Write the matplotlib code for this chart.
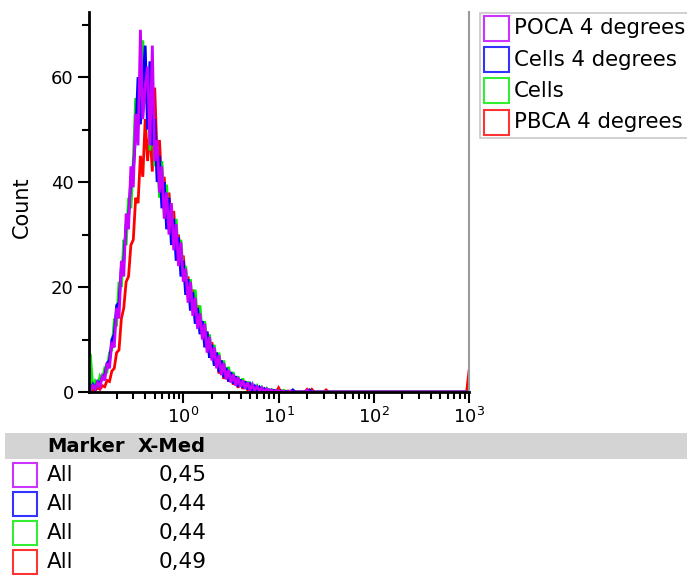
import numpy as np
import matplotlib
matplotlib.use("Agg")
import matplotlib.pyplot as plt
from matplotlib.patches import Rectangle
from matplotlib.ticker import FixedLocator, LogLocator, NullFormatter, LogFormatterSciNotation

plt.rcParams['font.family'] = ['DejaVu Sans']
plt.rcParams['mathtext.fontset'] = 'dejavusans'

# ---- data (histogram counts on a log10 grid, step 0.025 decade from ~10^-1) ----
series_names = ["POCA 4 degrees", "Cells 4 degrees", "Cells", "PBCA 4 degrees"]
series_colors = ["#cc00ff", "#0000ff", "#00ee00", "#ff0000"]
box_colors = ["#cc33ff", "#3333ff", "#33ee33", "#ff3333"]
medians = ["0,45", "0,44", "0,44", "0,49"]

poca = [0.3, 1.2, 0.6, 1.8, 1.0, 3.0, 2.2, 5.5, 4.5, 9.5, 8.5,
        16.0, 14.0, 25.0, 22.0, 34.0, 31.0, 43.0, 39.0, 53.0, 47.0,
        69.0, 52.0, 58.0, 62.0, 47.0, 66.0, 44.0, 48.0, 38.0, 43.0,
        33.0, 38.0, 30.0, 36.0, 27.0, 32.0, 24.0, 28.5, 21.0, 23.5,
        17.0, 21.0, 14.5, 18.0, 12.0, 15.0, 10.0, 13.0, 7.5, 10.5,
        6.0, 8.5, 4.5, 7.0, 3.2, 5.5, 2.4, 4.2, 1.8, 3.4,
        1.2, 2.8, 1.0, 2.2, 0.6, 1.8, 0.4, 1.4, 0.3, 1.0,
        0.2, 0.8, 0.0, 0.6, 0.2, 0.4, 0.0, 0.3, 0.2, 0.0,
        0.2, 0.0, 0.0, 0.2, 0.0, 0.0, 0.0, 0.0, 0.0, 0.0]
cells4 = [0.5, 1.4, 0.6, 2.0, 1.6, 2.8, 3.2, 5.5, 6.0, 10.0, 11.0,
          16.5, 17.0, 24.0, 25.0, 32.0, 33.0, 41.0, 42.0, 49.0, 60.0,
          51.0, 58.0, 66.0, 50.0, 63.0, 47.0, 52.0, 40.0, 45.0, 35.0,
          40.0, 31.0, 37.0, 28.0, 33.0, 25.0, 29.5, 22.0, 25.0, 18.5,
          21.5, 15.5, 19.0, 13.0, 16.0, 11.0, 13.5, 8.5, 11.5, 6.5,
          9.0, 5.0, 7.5, 3.8, 6.0, 2.8, 4.6, 2.0, 3.8, 1.6,
          3.0, 1.0, 2.4, 0.8, 2.0, 0.5, 1.5, 0.4, 1.1, 0.2,
          0.9, 0.1, 0.6, 0.0, 0.4, 0.0, 0.3, 0.2, 0.0, 0.2,
          0.0, 0.1, 0.0, 0.0, 0.2, 0.0, 0.0, 0.0, 0.0, 0.0]
cells = [7.0, 0.6, 2.0, 1.0, 3.0, 2.2, 4.5, 4.0, 7.5, 8.0, 13.5,
         13.0, 21.0, 20.0, 29.0, 28.0, 37.0, 35.0, 44.0, 56.0, 50.0,
         60.0, 67.0, 55.0, 58.0, 46.0, 54.0, 43.0, 47.0, 37.0, 44.0,
         34.0, 39.5, 31.0, 35.5, 28.0, 33.0, 25.0, 29.0, 22.5, 24.0,
         19.0, 21.5, 16.0, 19.5, 13.5, 16.5, 11.0, 13.5, 9.0, 11.0,
         7.0, 9.0, 5.5, 7.5, 4.0, 6.0, 3.0, 4.8, 2.2, 3.8,
         1.8, 3.0, 1.2, 2.6, 0.8, 2.0, 0.6, 1.5, 0.4, 1.2,
         0.3, 0.9, 0.2, 0.7, 0.1, 0.5, 0.3, 0.0, 0.2, 0.1,
         0.0, 0.2, 0.0, 0.0, 0.0, 0.1, 0.0, 0.0, 0.0, 0.0]
pbca4 = [0.0, 0.4, 0.3, 0.8, 0.5, 1.2, 1.0, 2.2, 2.0, 4.0, 4.5,
         7.5, 8.0, 14.0, 16.0, 21.0, 22.0, 28.0, 29.0, 37.0, 36.0,
         45.0, 41.0, 52.0, 44.0, 50.0, 42.0, 58.0, 45.0, 48.0, 39.0,
         41.0, 34.0, 38.0, 30.0, 34.5, 27.0, 30.0, 24.0, 26.0, 21.0,
         22.0, 17.5, 19.5, 14.5, 16.5, 12.0, 13.5, 9.5, 11.5, 7.0,
         9.5, 5.5, 7.5, 3.5, 6.0, 2.5, 4.6, 2.0, 3.4, 1.4,
         2.8, 0.8, 2.2, 0.6, 1.6, 0.4, 1.1, 0.2, 0.8, 0.1,
         0.5, 0.3, 0.0, 0.4, 0.2, 0.0, 0.2, 0.0, 0.3, 0.0,
         0.0, 0.0, 0.2, 0.0, 0.0, 0.0, 0.0, 0.0, 0.0, 0.0]
# sparse counts further out (log10 position -> count)
tail_poca = {1.31: 0.3}
tail_cells4 = {1.16: 0.4, 1.33: 0.4}
tail_cells = {1.06: 0.3}
tail_pbca4 = {0.99: 0.8, 1.31: 0.5, 1.36: 0.5, 1.51: 0.4, 3.00: 4.0}

log_start, log_step = -0.975, 0.025
n_bins = 160
log_centers = log_start + log_step * np.arange(n_bins)
x_centers = 10 ** log_centers

def full_series(core, tail):
    y = np.zeros(n_bins)
    y[:len(core)] = core
    for lg, v in tail.items():
        idx = min(int(round((lg - log_start) / log_step)), n_bins - 1)
        y[idx] = v
    return y

all_series = [full_series(poca, tail_poca), full_series(cells4, tail_cells4),
              full_series(cells, tail_cells), full_series(pbca4, tail_pbca4)]

# ---- figure ----
W, H = 687, 575
fig = plt.figure(figsize=(W / 100, H / 100), dpi=100)

def fx(px):
    return px / W

def fy(py):
    return 1 - py / H

ax = fig.add_axes([fx(89), fy(392), fx(469) - fx(89), fy(12) - fy(392)])
# draw red first, magenta on top
for ys, col in list(zip(all_series, series_colors))[::-1]:
    ax.plot(x_centers, ys, color=col, lw=2.0, solid_joinstyle='miter', clip_on=True)

ax.set_xscale('log')
ax.set_xlim(10 ** -0.99, 1000)
ax.set_ylim(0, 72.4)
ax.xaxis.set_major_locator(FixedLocator([1, 10, 100, 1000]))
ax.xaxis.set_major_formatter(LogFormatterSciNotation())
ax.xaxis.set_minor_locator(LogLocator(base=10, subs=np.arange(2, 10)))
ax.xaxis.set_minor_formatter(NullFormatter())
ax.set_yticks([0, 20, 40, 60])
ax.set_yticks([10, 30, 50, 70], minor=True)

ax.spines['top'].set_visible(False)
ax.spines['right'].set_color('#9a9a9a')
ax.spines['right'].set_linewidth(1.5)
ax.spines['left'].set_linewidth(2)
ax.spines['bottom'].set_linewidth(2)
ax.tick_params(axis='both', which='major', length=8, width=1.5, direction='out',
               labelsize=13, pad=3, colors='black')
ax.tick_params(axis='both', which='minor', length=5, width=1.5, direction='out')
ax.tick_params(axis='y', which='both', right=False)

fig.text(fx(22), fy(207), "Count", rotation=90, ha='center', va='center', fontsize=15)

# legend box
fig.add_artist(Rectangle((fx(480), fy(138)), fx(700) - fx(480), fy(13) - fy(138),
                         transform=fig.transFigure, facecolor='white',
                         edgecolor='#c8c8c8', lw=1.2))
leg_centers = [28.5, 59.5, 91, 122.5]
for name, col, cy in zip(series_names, box_colors, leg_centers):
    fig.add_artist(Rectangle((fx(484), fy(cy + 12.5)), fx(509) - fx(484), fy(cy - 12.5) - fy(cy + 12.5),
                             transform=fig.transFigure, facecolor='none', edgecolor=col, lw=1.5))
    fig.text(fx(514), fy(cy), name, ha='left', va='center', fontsize=15.3)

# statistics table
fig.add_artist(Rectangle((fx(5), fy(459)), fx(687) - fx(5), fy(433) - fy(459),
                         transform=fig.transFigure, facecolor='#d4d4d4', edgecolor='none'))
fig.text(fx(47), fy(447), "Marker", ha='left', va='center', fontsize=14, fontweight='bold')
fig.text(fx(206), fy(447), "X-Med", ha='right', va='center', fontsize=14, fontweight='bold')
row_centers = [475, 504, 533, 561.5]
for col, med, cy in zip(box_colors, medians, row_centers):
    fig.add_artist(Rectangle((fx(13), fy(cy + 12)), fx(37) - fx(13), fy(cy - 12) - fy(cy + 12),
                             transform=fig.transFigure, facecolor='none', edgecolor=col, lw=1.5))
    fig.text(fx(47), fy(cy), "All", ha='left', va='center', fontsize=15.5)
    fig.text(fx(207), fy(cy), med, ha='right', va='center', fontsize=15.5)

fig.savefig("out.png", dpi=100)
